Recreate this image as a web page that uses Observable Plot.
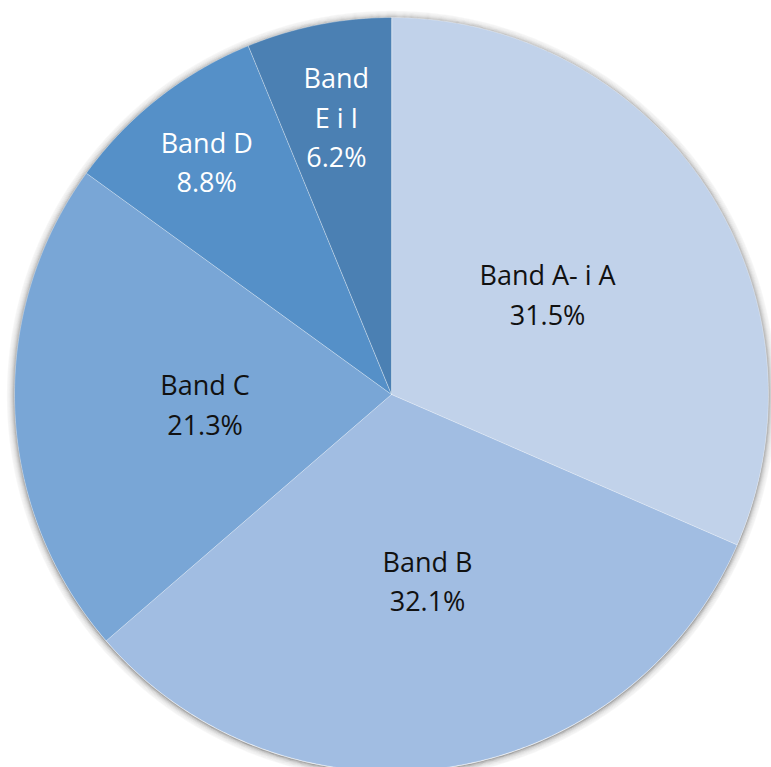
<!DOCTYPE html>
<html>
<head>
<meta charset="utf-8">
<script src="https://cdn.jsdelivr.net/npm/d3@7"></script>
<script src="https://cdn.jsdelivr.net/npm/@observablehq/plot@0.6"></script>
<style>
  html, body { margin: 0; padding: 0; background: #fff; }
  #chart svg { display: block; }
</style>
</head>
<body>
<div id="chart"></div>
<script>
const labels = ["Band A- i A", "Band B", "Band C", "Band D", "Band\nE i I"];
const values = [31.5, 32.1, 21.3, 8.8, 6.2];
const colors = ["#c1d2ea", "#a1bde2", "#79a6d6", "#5590c8", "#4b80b3"];
const textColors = ["#111111", "#111111", "#111111", "#ffffff", "#ffffff"];

const W = 771, H = 767;
const cx = 391, cy = 394, R = 377;

// build slice polygons from the values (clockwise from 12 o'clock)
const total = d3.sum(values);
const slices = [];
const labelData = [];
let acc = 0;
values.forEach((v, i) => {
  const a0 = acc / total * 2 * Math.PI;
  acc += v;
  const a1 = acc / total * 2 * Math.PI;
  const n = Math.max(4, Math.ceil((a1 - a0) / (Math.PI / 360)));
  slices.push({name: labels[i], k: 0, x: 0, y: 0});
  for (let j = 0; j <= n; j++) {
    const a = a0 + (a1 - a0) * j / n;
    slices.push({name: labels[i], k: j + 1, x: R * Math.sin(a), y: R * Math.cos(a)});
  }
  const am = (a0 + a1) / 2;
  const lr = (v < 10 ? 0.665 + 0.0145 * v : 0.495) * R;
  labelData.push({
    name: labels[i],
    text: labels[i] + "\n" + v.toFixed(1) + "%",
    x: lr * Math.sin(am) + (i === 1 ? 8 : 0),
    y: lr * Math.cos(am),
    color: textColors[i]
  });
});

// soft shadow: faint rings just outside the pie edge
const shadowSteps = [1, 2, 3, 4, 5, 6, 7, 8];
const shadow = [];
shadowSteps.forEach((s) => {
  for (let j = 0; j < 720; j++) {
    const a = j / 720 * 2 * Math.PI;
    shadow.push({ring: s, x: (R + s - 1) * Math.sin(a), y: (R + s - 1) * Math.cos(a) - 1});
  }
});

const chart = Plot.plot({
  width: W,
  height: H,
  margin: 0,
  x: {domain: [-cx, W - cx], axis: null},
  y: {domain: [-(H - cy), cy], axis: null},
  color: {domain: labels, range: colors},
  marks: [
    ...shadowSteps.map((s) => Plot.line(shadow.filter((d) => d.ring === s), {
      x: "x", y: "y", stroke: "#000", strokeWidth: 1.3,
      strokeOpacity: 0.3 * Math.pow(0.72, s - 1), curve: "linear-closed"
    })),
    Plot.line(slices, {
      x: "x", y: "y", z: "name", fill: "name",
      stroke: "#ffffff", strokeOpacity: 0.35, strokeWidth: 1,
      curve: "linear-closed"
    }),
    Plot.text(labelData, {
      x: "x", y: "y", text: "text", fill: "color",
      fontSize: 27, lineHeight: 1.46,
      fontFamily: "'Open Sans', Lato, sans-serif"
    })
  ]
});
document.getElementById("chart").appendChild(chart);
</script>
</body>
</html>
